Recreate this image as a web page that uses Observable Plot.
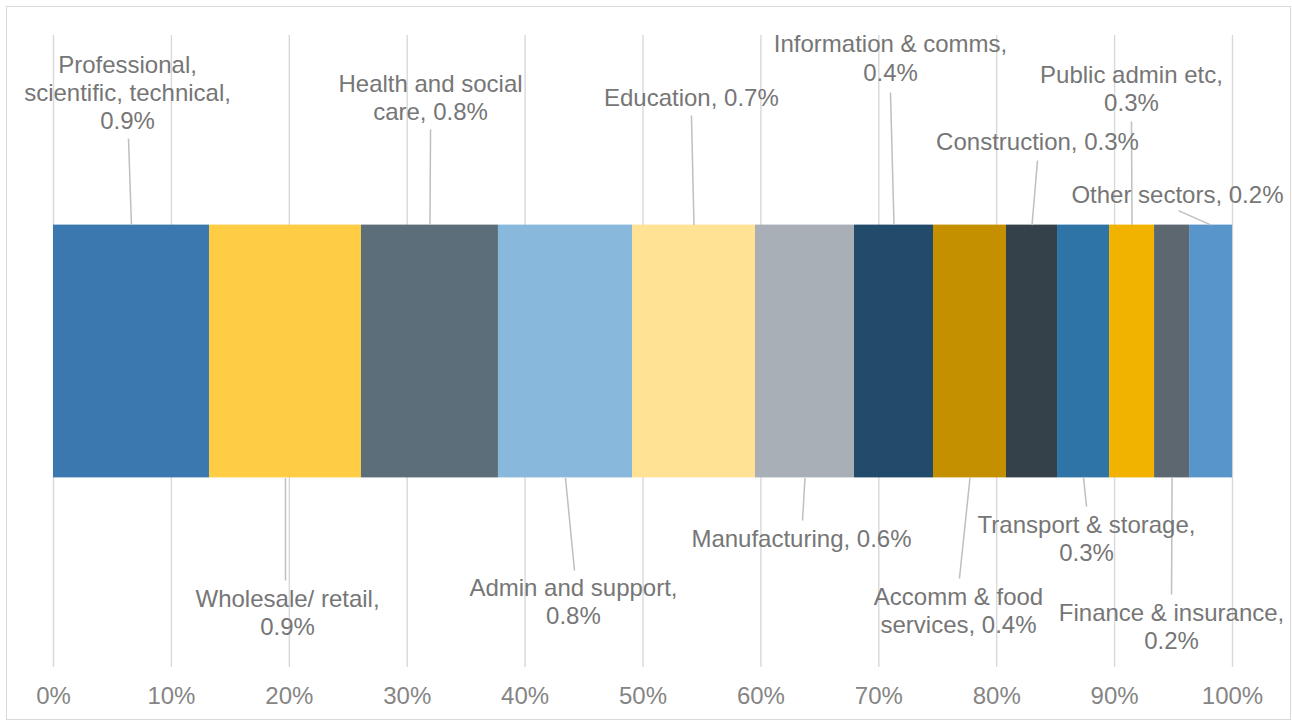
<!DOCTYPE html>
<html><head><meta charset="utf-8">
<script src="https://cdn.jsdelivr.net/npm/d3@7"></script>
<script src="https://cdn.jsdelivr.net/npm/@observablehq/plot@0.6"></script>
<style>
html,body{margin:0;padding:0;background:#fff;overflow:hidden;}
#chart{position:absolute;left:0;top:0;}
#frame{position:absolute;left:6px;top:6px;width:1283px;height:712px;border:1px solid #d9d9d9;pointer-events:none;z-index:2;}
</style></head><body>
<div id="chart"></div><div id="frame"></div>
<script>
// ---- data ----
const sectors = ["Professional, scientific, technical", "Wholesale/ retail", "Health and social care",
  "Admin and support", "Education", "Manufacturing", "Information & comms", "Accomm & food services",
  "Construction", "Transport & storage", "Public admin etc", "Finance & insurance", "Other sectors"];
const shares = [13.23, 12.89, 11.62, 11.37, 10.43, 8.40, 6.70, 6.19, 4.33, 4.41, 3.82, 2.97, 3.65];
const labelPct = ["0.9", "0.9", "0.8", "0.8", "0.7", "0.6", "0.4", "0.4", "0.3", "0.3", "0.3", "0.2", "0.2"];
const xTicks = [0, 10, 20, 30, 40, 50, 60, 70, 80, 90, 100];

// ---- styles / annotation layout ----
const colors = ["#3A78AF", "#FFCD44", "#5B6E79", "#88B9DD", "#FFE294", "#A8AFB6", "#224A6B",
  "#C49000", "#35414A", "#2E74A7", "#F2B300", "#5C6770", "#5795CA"];
const wordsPerLine = [[1,2,1],[2,1],[3,2],[3,1],[2],[2],[3,1],[3,2],[2],[3,1],[3,1],[3,1],[3]];
const side = [1,-1,1,-1,1,-1,1,-1,1,-1,1,-1,1]; // 1 = label above bar, -1 = below
const labelX = [6.28, 19.85, 31.98, 44.1, 54.1, 63.44, 70.99, 76.76, 83.46, 87.62, 91.43, 94.83, 95.33];
const labelY = [2.04, -2.08, 2.00, -1.99, 2.00, -1.49, 2.31, -2.06, 1.65, -1.49, 2.07, -2.19, 1.23];
const leaderX = [6.36, 19.68, 31.98, 44.19, 54.11, 63.53, 70.99, 76.84, 83.46, 87.62, 91.43, 94.83, 95.42];
const leaderY = [1.685, -1.812, 1.756, -1.733, 1.867, -1.337, 2.049, -1.796, 1.511, -1.226, 1.820, -1.922, 1.115];

const ends = d3.cumsum(shares);
function wrap(text, counts) {
  const w = text.split(" ");
  let k = 0;
  return counts.map(c => { const s = w.slice(k, k + c).join(" "); k += c; return s; }).join("\n");
}
const rows = sectors.map((s, i) => ({
  sector: s,
  share: shares[i],
  mid: ends[i] - shares[i] / 2,
  edge: side[i],
  label: wrap(`${s}, ${labelPct[i]}%`, wordsPerLine[i]),
  lx: labelX[i], ly: labelY[i], ex: leaderX[i], ey: leaderY[i]
}));

const font = "'Liberation Sans', Arial, Helvetica, sans-serif";
const chart = Plot.plot({
  width: 1292, height: 722,
  marginLeft: 53, marginRight: 60, marginTop: 35, marginBottom: 55,
  style: {fontFamily: font, background: "transparent"},
  x: {domain: [0, 100], axis: null},
  y: {domain: [-2.5, 2.5], axis: null},
  color: {domain: sectors, range: colors},
  marks: [
    Plot.gridX(xTicks, {stroke: "#d9d9d9", strokeOpacity: 1, strokeWidth: 1.4}),
    Plot.rectX(rows, Plot.stackX({x: "share", y1: () => -1, y2: () => 1, fill: "sector", order: null, inset: 0})),
    Plot.link(rows, {x1: "mid", y1: "edge", x2: "ex", y2: "ey", stroke: "#bfbfbf", strokeWidth: 1.5}),
    Plot.text(rows, {x: "lx", y: "ly", text: "label", fontSize: 24, fill: "#767676", lineHeight: 1.17, dy: -2, fontFamily: font}),
    Plot.axisX(xTicks, {tickFormat: d => d + "%", tickSize: 0, tickPadding: 19, fontSize: 24, fill: "#858585", fontFamily: font})
  ]
});
document.getElementById("chart").appendChild(chart);
</script>
</body></html>
